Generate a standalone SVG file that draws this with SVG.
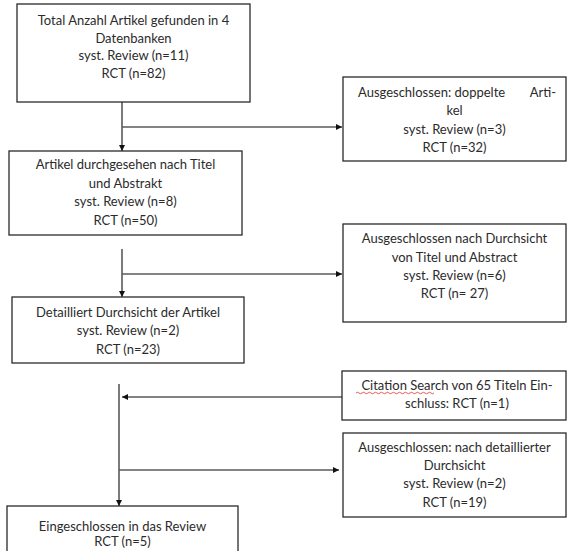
<svg xmlns="http://www.w3.org/2000/svg" width="569" height="551" viewBox="0 0 569 551">
<defs>
<style>
.box{fill:#fff;stroke:#2a2a2a;stroke-width:1.3}
.t{font-family:Lato,"Open Sans",sans-serif;font-size:13px;fill:#2b2b2b;text-anchor:middle}
.c{fill:none;stroke:#5a5a5a;stroke-width:1.6}
.wave{fill:none;stroke:#d33;stroke-width:0.8}
</style>
<marker id="ah" viewBox="0 0 10 10" refX="10" refY="5" markerWidth="6" markerHeight="6" markerUnits="userSpaceOnUse" orient="auto">
<path d="M0,0 L10,5 L0,10 z" fill="#111"/>
</marker>
</defs>
<rect width="569" height="551" fill="#fff"/>
<g id="connectors">
<line class="c" x1="122" y1="102" x2="122" y2="151" marker-end="url(#ah)"/>
<line class="c" x1="122" y1="127" x2="342" y2="127" marker-end="url(#ah)"/>
<line class="c" x1="122" y1="249" x2="122" y2="297" marker-end="url(#ah)"/>
<line class="c" x1="122" y1="274" x2="342" y2="274" marker-end="url(#ah)"/>
<line class="c" x1="119" y1="384" x2="119" y2="506" marker-end="url(#ah)"/>
<line class="c" x1="342" y1="397" x2="122" y2="397" marker-end="url(#ah)"/>
<line class="c" x1="119" y1="470" x2="339" y2="470" marker-end="url(#ah)"/>
</g>
<g id="n1">
<rect class="box" x="17" y="4" width="233" height="98"/>
<text class="t" x="133.5" y="25">Total Anzahl Artikel gefunden in 4</text>
<text class="t" x="133.5" y="42.5">Datenbanken</text>
<text class="t" x="133.5" y="60">syst. Review (n=11)</text>
<text class="t" x="133.5" y="77.5">RCT (n=82)</text>
</g>
<g id="n2">
<rect class="box" x="343" y="77" width="223" height="84"/>
<text class="t" x="358" y="97" style="text-anchor:start">Ausgeschlossen: doppelte</text>
<text class="t" x="556" y="97" style="text-anchor:end">Arti-</text>
<text class="t" x="454.5" y="115">kel</text>
<text class="t" x="454.5" y="134">syst. Review (n=3)</text>
<text class="t" x="454.5" y="152">RCT (n=32)</text>
</g>
<g id="n3">
<rect class="box" x="9" y="151" width="233" height="84"/>
<text class="t" x="125.5" y="169">Artikel durchgesehen nach Titel</text>
<text class="t" x="125.5" y="188">und Abstrakt</text>
<text class="t" x="125.5" y="206">syst. Review (n=8)</text>
<text class="t" x="125.5" y="225">RCT (n=50)</text>
</g>
<g id="n4">
<rect class="box" x="343" y="224" width="223" height="98"/>
<text class="t" x="454.5" y="243">Ausgeschlossen nach Durchsicht</text>
<text class="t" x="454.5" y="262">von Titel und Abstract</text>
<text class="t" x="454.5" y="280">syst. Review (n=6)</text>
<text class="t" x="454.5" y="298">RCT (n= 27)</text>
</g>
<g id="n5">
<rect class="box" x="12" y="297" width="232" height="66"/>
<text class="t" x="128" y="317">Detailliert Durchsicht der Artikel</text>
<text class="t" x="128" y="335">syst. Review (n=2)</text>
<text class="t" x="128" y="354">RCT (n=23)</text>
</g>
<g id="n6">
<rect class="box" x="342" y="371" width="224" height="49"/>
<text class="t" x="457" y="390">Citation Search von 65 Titeln Ein-</text>
<text class="t" x="457" y="408">schluss: RCT (n=1)</text>
<path class="wave" d="M356,393 q1.5,-1.5 3,0 t3,0 t3,0 t3,0 t3,0 t3,0 t3,0 t3,0 t3,0 t3,0 t3,0 t3,0 t3,0 t3,0 t3,0 t3,0 t3,0 t3,0 t3,0 t3,0 t3,0 t3,0 t3,0 t3,0 t3,0 t3,0"/>
</g>
<g id="n7">
<rect class="box" x="343" y="433" width="223" height="84"/>
<text class="t" x="454.5" y="452">Ausgeschlossen: nach detaillierter</text>
<text class="t" x="454.5" y="470">Durchsicht</text>
<text class="t" x="454.5" y="488">syst. Review (n=2)</text>
<text class="t" x="454.5" y="507">RCT (n=19)</text>
</g>
<g id="n8">
<rect class="box" x="7" y="506" width="231" height="60"/>
<text class="t" x="122.5" y="531">Eingeschlossen in das Review</text>
<text class="t" x="122.5" y="546">RCT (n=5)</text>
</g>
</svg>
